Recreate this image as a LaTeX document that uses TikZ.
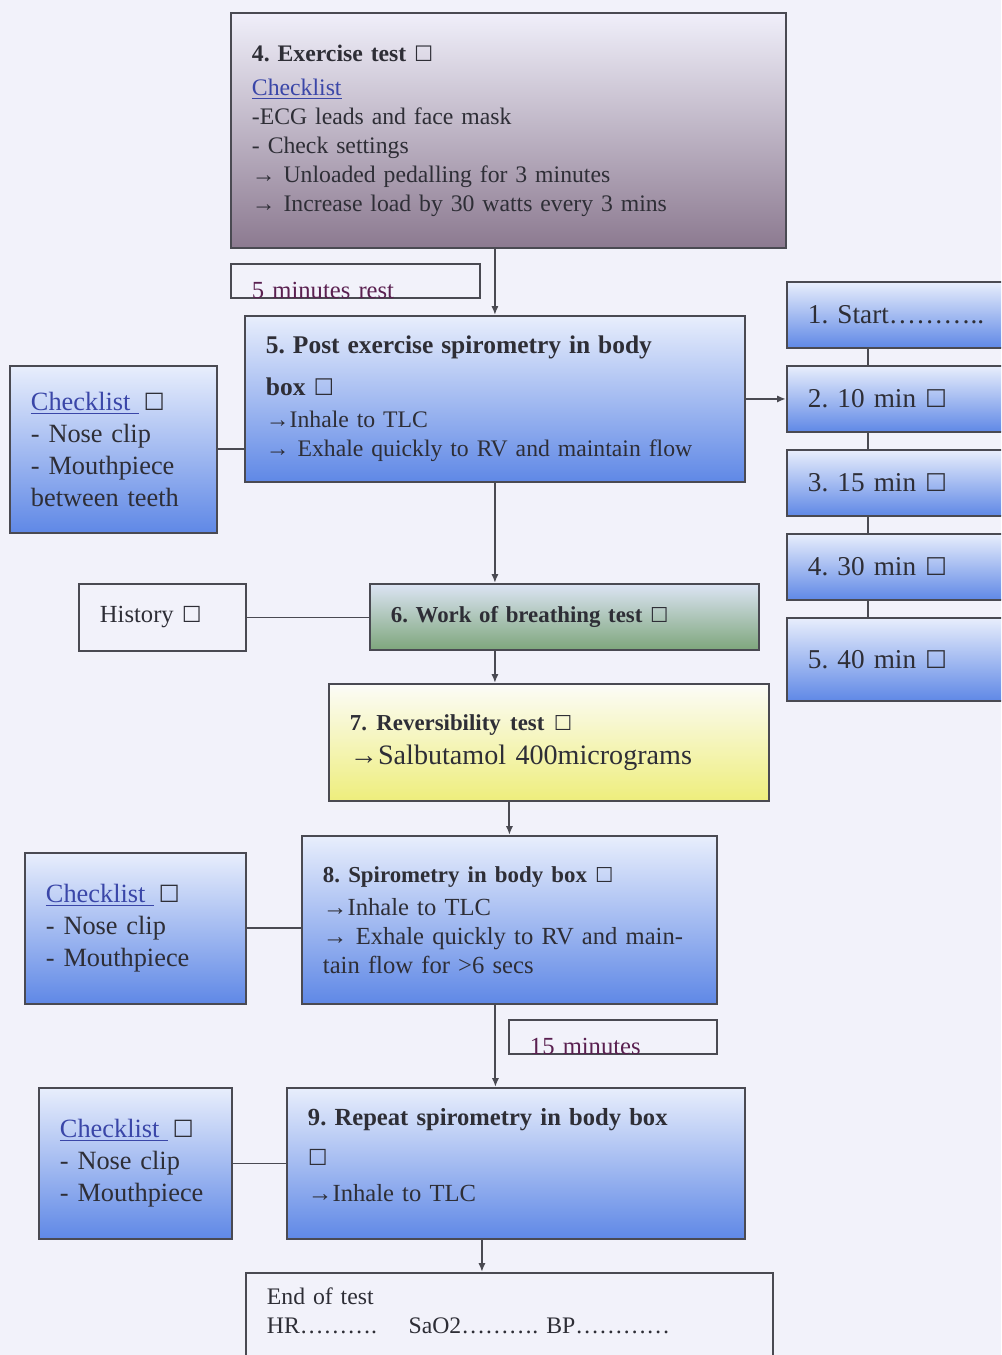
\documentclass[tikz,border=0pt]{standalone}
\usepackage{fontspec}
\setmainfont{Liberation Serif}
\newfontfamily\symf{DejaVu Sans}
\usetikzlibrary{arrows.meta}
\frenchspacing

\definecolor{paper}{HTML}{F2F2FA}
\definecolor{ink}{HTML}{2E2E36}
\definecolor{edge}{HTML}{4A4A52}
\definecolor{linkblue}{HTML}{3A46A8}
\definecolor{restpurple}{HTML}{5A2050}
\definecolor{blueTop}{HTML}{E8EEFC}
\definecolor{blueBot}{HTML}{5F88E6}
\definecolor{purpleTop}{HTML}{F0EFFA}
\definecolor{purpleMid}{HTML}{C4BADC}
\definecolor{purpleBot}{HTML}{8C7A90}
\definecolor{greenTop}{HTML}{DCE4F4}
\definecolor{greenBot}{HTML}{7EA67C}
\definecolor{yellowTop}{HTML}{FCFCF8}
\definecolor{yellowBot}{HTML}{EEEE7C}

% empty check box after each step
\newcommand{\chk}{{\symf\fontsize{0.9em}{1em}\selectfont ☐}}
\newcommand{\cklist}{{\color{linkblue}\underline{Checklist\ }}\,\chk}

\begin{document}
\begin{tikzpicture}[x=0.02cm,y=-0.02cm,>={Latex[length=5pt,width=4pt]},
  stage/.style={draw=edge, line width=1.1pt, anchor=north west, align=left,
    inner xsep=0.42cm, inner ysep=0pt, text=ink},
  bluebox/.style={stage, top color=blueTop, bottom color=blueBot},
  plainbox/.style={stage, fill=paper},
  link/.style={draw=edge, line width=1.1pt}]
\useasboundingbox (0,0) rectangle (1001,1355);
\clip (0,0) rectangle (1001,1355);
\fill[paper] (0,0) rectangle (1001,1355);

% main column
\node[stage, top color=purpleTop, middle color=purpleMid, bottom color=purpleBot,
  text width=10.26cm, minimum height=4.7cm, font=\fontsize{13.5}{16.5}\selectfont]
  (ex) at (230,12) {{\bfseries 4. Exercise test \chk}\\[3pt]
  {\color{linkblue}\underline{Checklist}}\\ -ECG leads and face mask\\ - Check settings\\
  → Unloaded pedalling for 3 minutes\\ → Increase load by 30 watts every 3 mins};
\node[plainbox, text width=4.14cm, minimum height=0.68cm, text=restpurple,
  font=\fontsize{14}{16}\selectfont, text depth=-2pt]
  (rest) at (230,263) {\raisebox{-10pt}{5 minutes rest}};
\node[bluebox, text width=9.16cm, minimum height=3.32cm, font=\fontsize{13.5}{16.5}\selectfont]
  (post) at (244,315) {{\fontsize{14.5}{18}\selectfont\bfseries 5. Post exercise spirometry in body}\\[7pt]
  {\fontsize{14.5}{18}\selectfont\bfseries box \chk}\\[2pt]
  →Inhale to TLC\\ → Exhale quickly to RV and maintain flow};
\node[bluebox, text width=3.3cm, minimum height=3.34cm, font=\fontsize{15}{18.2}\selectfont]
  (ckpost) at (9,365) {\cklist\\ - Nose clip\\ - Mouthpiece\\ between teeth};
\node[stage, top color=greenTop, bottom color=greenBot, text width=6.94cm, minimum height=1.32cm,
  font=\fontsize{13}{16}\selectfont\bfseries]
  (wob) at (369,583) {6. Work of breathing test \chk};
\node[plainbox, text width=2.5cm, minimum height=1.34cm, font=\fontsize{14}{16}\selectfont]
  (hist) at (78,583) {History \chk};
\node[stage, top color=yellowTop, bottom color=yellowBot, text width=7.96cm, minimum height=2.34cm,
  font=\fontsize{16}{19}\selectfont]
  (rev) at (328,683) {{\fontsize{13}{16}\selectfont\bfseries 7. Reversibility test \chk}\\
  →Salbutamol 400micrograms};
\node[bluebox, text width=7.46cm, minimum height=3.36cm, font=\fontsize{14}{16.5}\selectfont]
  (spi) at (301,835) {{\fontsize{13}{16}\selectfont\bfseries 8. Spirometry in body box \chk}\\[2pt]
  →Inhale to TLC\\ → Exhale quickly to RV and main-\\ tain flow for >6 secs};
\node[bluebox, text width=3.58cm, minimum height=3.02cm, font=\fontsize{15}{18.2}\selectfont]
  (ckspi) at (24,852) {\cklist\\ - Nose clip\\ - Mouthpiece};
\node[plainbox, text width=3.32cm, minimum height=0.68cm, text=restpurple,
  font=\fontsize{14}{16}\selectfont, text depth=-2pt]
  (wait) at (508,1019) {\raisebox{-10pt}{15 minutes}};
\node[bluebox, text width=8.32cm, minimum height=3.02cm, font=\fontsize{14}{17}\selectfont,
  text depth=1.86cm]
  (rep) at (286,1087) {{\bfseries 9. Repeat spirometry in body box}\\[6pt]
  \chk\\[3pt] →Inhale to TLC};
\node[bluebox, text width=3.02cm, minimum height=3.02cm, font=\fontsize{15}{18.2}\selectfont]
  (ckrep) at (38,1087) {\cklist\\ - Nose clip\\ - Mouthpiece};
\node[plainbox, text width=9.7cm, inner ysep=0.3cm, text depth=1.6cm,
  font=\fontsize{13.5}{16.5}\selectfont]
  (endt) at (245,1272) {End of test\\ HR………. \quad SaO2………. BP…………};

% timing column on the right
\node[bluebox, text width=5.16cm, minimum height=1.32cm, font=\fontsize{15.5}{18}\selectfont]
  (start) at (786,281) {1. Start………..};
\node[bluebox, text width=5.16cm, minimum height=1.32cm, font=\fontsize{15.5}{18}\selectfont]
  (ten) at (786,365) {2. 10 min \chk};
\node[bluebox, text width=5.16cm, minimum height=1.32cm, font=\fontsize{15.5}{18}\selectfont]
  (fifteen) at (786,449) {3. 15 min \chk};
\node[bluebox, text width=5.16cm, minimum height=1.32cm, font=\fontsize{15.5}{18}\selectfont]
  (thirty) at (786,533) {4. 30 min \chk};
\node[bluebox, text width=5.16cm, minimum height=1.66cm, font=\fontsize{15.5}{18}\selectfont]
  (forty) at (786,617) {5. 40 min \chk};

% flow arrows
\draw[link,->] (ex.south -| post.north) -- (post.north);
\draw[link,->] (post.south) -- (post.south |- wob.north);
\draw[link,->] (wob.south -| post.south) -- (post.south |- rev.north);
\draw[link,->] (rev.south -| spi.north) -- (spi.north);
\draw[link,->] ([xshift=-0.28cm]spi.south) -- ([xshift=-0.28cm]spi.south |- rep.north);
\draw[link,->] ([xshift=-0.68cm]rep.south) -- ([xshift=-0.68cm]rep.south |- endt.north);
\draw[link,->] (post.east) -- (post.east -| ten.west);

% side links
\draw[link] (ckpost.east) -- (ckpost.east -| post.west);
\draw[link] (hist.east) -- (hist.east -| wob.west);
\draw[link] (ckspi.east) -- (ckspi.east -| spi.west);
\draw[link] (ckrep.east) -- (ckrep.east -| rep.west);
\draw[link] ([xshift=1.64cm]start.south west) -- ([xshift=1.64cm]ten.north west);
\draw[link] ([xshift=1.64cm]ten.south west) -- ([xshift=1.64cm]fifteen.north west);
\draw[link] ([xshift=1.64cm]fifteen.south west) -- ([xshift=1.64cm]thirty.north west);
\draw[link] ([xshift=1.64cm]thirty.south west) -- ([xshift=1.64cm]forty.north west);
\end{tikzpicture}
\end{document}
